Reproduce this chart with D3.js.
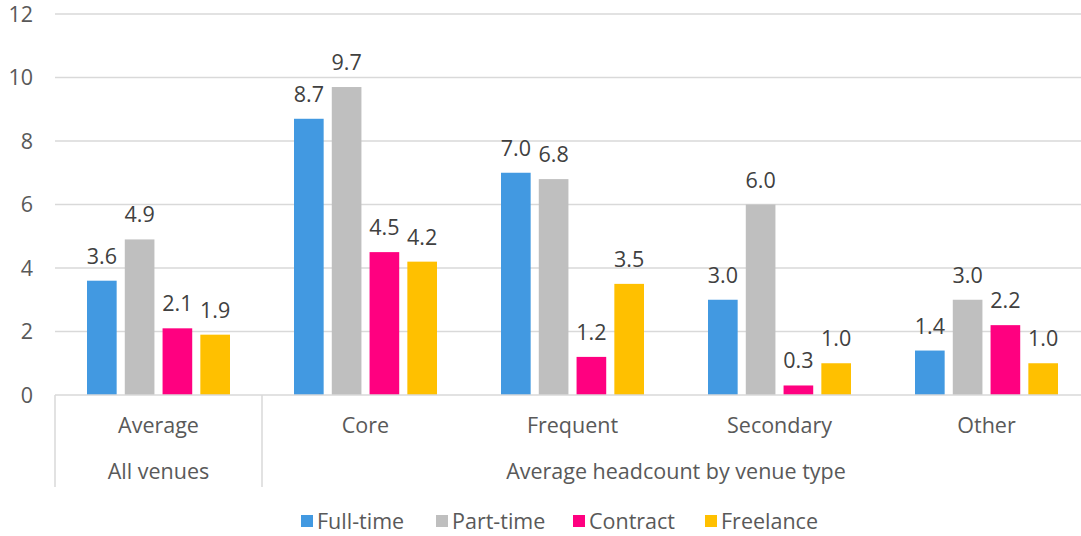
<!DOCTYPE html>
<html>
<head>
<meta charset="utf-8">
<script src="https://cdn.jsdelivr.net/npm/d3@7"></script>
<style>
    body { margin: 0; background: #fff; }
    svg text { font-family: "Open Sans", "Noto Sans", sans-serif; }
</style>
</head>
<body>
<svg id="chart" width="1081" height="536"></svg>
<script>
var categories = ["Average", "Core", "Frequent", "Secondary", "Other"];
var groupLabels = ["All venues", "Average headcount by venue type"];
var series = ["Full-time", "Part-time", "Contract", "Freelance"];
var fullTime = [3.6, 8.7, 7.0, 3.0, 1.4];
var partTime = [4.9, 9.7, 6.8, 6.0, 3.0];
var contract = [2.1, 4.5, 1.2, 0.3, 2.2];
var freelance = [1.9, 4.2, 3.5, 1.0, 1.0];
var yTicks = [0, 2, 4, 6, 8, 10, 12];

var colors = ["#4299e1", "#bfbfbf", "#ff0080", "#ffc000"];
var values = [fullTime, partTime, contract, freelance];
var fs = 21.5;

var svg = d3.select("#chart");
var marginLeft = 55, marginTop = 14, plotW = 1035, plotH = 381;

var x = d3.scaleBand().domain(categories).range([marginLeft, marginLeft + plotW]);
var inner = d3.scaleBand().domain(series)
    .range([32, x.bandwidth() - 32]).paddingInner(0.215);
var y = d3.scaleLinear().domain([0, 12]).range([marginTop + plotH, marginTop]);

// gridlines
svg.append("g").selectAll("line")
    .data(yTicks.slice(1))
    .enter().append("line")
    .attr("x1", marginLeft).attr("x2", marginLeft + plotW)
    .attr("y1", function (d) { return y(d); })
    .attr("y2", function (d) { return y(d); })
    .attr("stroke", "#d9d9d9").attr("stroke-width", 1.5);

// y labels
svg.append("g").selectAll("text")
    .data(yTicks)
    .enter().append("text")
    .attr("x", 33)
    .attr("y", function (d) { return y(d) + 7.5; })
    .attr("text-anchor", "end")
    .attr("font-size", fs)
    .attr("fill", "#595959")
    .text(function (d) { return d; });

// bars
var groups = svg.append("g").selectAll("g")
    .data(categories)
    .enter().append("g")
    .attr("transform", function (d) { return "translate(" + x(d) + ",0)"; });

groups.each(function (cat, ci) {
    var g = d3.select(this);
    series.forEach(function (s, si) {
        var v = values[si][ci];
        g.append("rect")
            .attr("x", inner(s))
            .attr("y", y(v))
            .attr("width", inner.bandwidth())
            .attr("height", y(0) - y(v))
            .attr("fill", colors[si]);
        g.append("text")
            .attr("x", inner(s) + inner.bandwidth() / 2)
            .attr("y", y(v) - 17)
            .attr("text-anchor", "middle")
            .attr("font-size", fs)
            .attr("fill", "#404040")
            .text(v.toFixed(1));
    });
});

// axis baseline and separators
svg.append("line")
    .attr("x1", marginLeft).attr("x2", marginLeft + plotW)
    .attr("y1", y(0)).attr("y2", y(0))
    .attr("stroke", "#d9d9d9").attr("stroke-width", 1.5);

var seps = [marginLeft, x("Core"), marginLeft + plotW];
svg.append("g").selectAll("line")
    .data(seps)
    .enter().append("line")
    .attr("x1", function (d) { return d; })
    .attr("x2", function (d) { return d; })
    .attr("y1", y(0)).attr("y2", 487)
    .attr("stroke", "#d9d9d9").attr("stroke-width", 1.5);

// category labels
svg.append("g").selectAll("text")
    .data(categories)
    .enter().append("text")
    .attr("x", function (d) { return x(d) + x.bandwidth() / 2; })
    .attr("y", 433)
    .attr("text-anchor", "middle")
    .attr("font-size", fs)
    .attr("fill", "#595959")
    .text(function (d) { return d; });

var groupCenters = [
    x("Average") + x.bandwidth() / 2,
    (x("Core") + marginLeft + plotW) / 2
];
svg.append("g").selectAll("text")
    .data(groupLabels)
    .enter().append("text")
    .attr("x", function (d, i) { return groupCenters[i]; })
    .attr("y", 479)
    .attr("text-anchor", "middle")
    .attr("font-size", fs)
    .attr("fill", "#595959")
    .text(function (d) { return d; });

// legend
var legendX = [301, 436, 573, 705];
var legend = svg.append("g").selectAll("g")
    .data(series)
    .enter().append("g")
    .attr("transform", function (d, i) { return "translate(" + legendX[i] + ",515)"; });
legend.append("rect")
    .attr("width", 12).attr("height", 12)
    .attr("fill", function (d, i) { return colors[i]; });
legend.append("text")
    .attr("x", 16).attr("y", 14)
    .attr("font-size", fs)
    .attr("fill", "#595959")
    .text(function (d) { return d; });
</script>
</body>
</html>
